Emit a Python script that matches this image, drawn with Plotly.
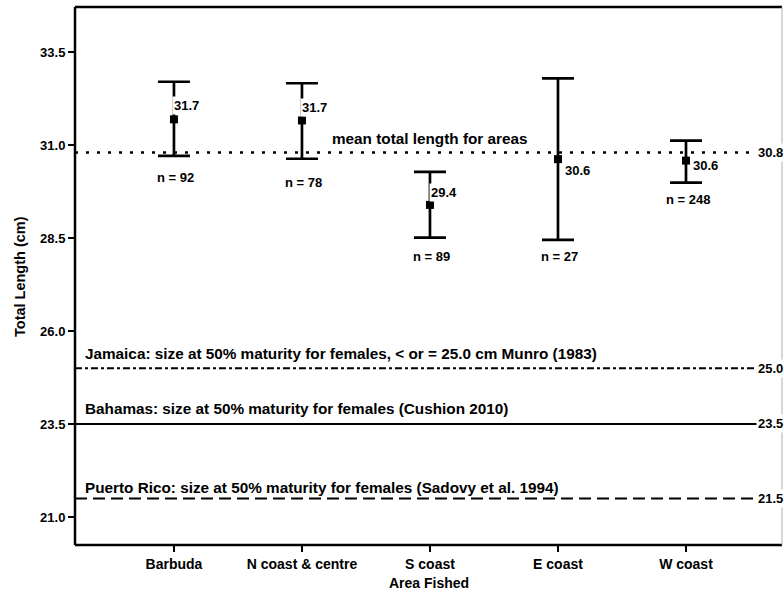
import plotly.graph_objects as go

# ---- data ----
areas = ["Barbuda", "N coast & centre", "S coast", "E coast", "W coast"]
mean_len = [31.69, 31.66, 29.39, 30.62, 30.58]
upper_ci = [32.70, 32.66, 30.28, 32.79, 31.12]
lower_ci = [30.71, 30.63, 28.51, 28.45, 29.99]
n_fish = [92, 78, 89, 27, 248]

overall_mean = 30.8
overall_label = "mean total length for areas"
ref_values = [25.0, 23.5, 21.5]
ref_labels = [
    "Jamaica: size at 50% maturity for females, < or = 25.0 cm Munro (1983)",
    "Bahamas: size at 50% maturity for females (Cushion 2010)",
    "Puerto Rico: size at 50% maturity for females (Sadovy et al. 1994)",
]
y_ticks = [21.0, 23.5, 26.0, 28.5, 31.0, 33.5]

# ---- styling ----
FONT = "Liberation Sans, Arial, sans-serif"
ref_dash = ["7px,3px,3px,3px", "solid", "12px,6px"]
ref_label_shift = [15, 15, 11]
# label offsets (pixels) for mean value labels: (xshift, yshift)
val_shift = [(-2, 13.5), (-2, 13), (-1, 12.5), (5, -11), (5, -4.5)]
# n label offsets below lower CI (pixels)
n_shift = [-22, -24, -19, -17, -17]

fig = go.Figure()

fig.add_trace(go.Scatter(
    x=areas, y=mean_len, mode="markers",
    marker=dict(symbol="square", size=8, color="black"),
    error_y=dict(type="data", symmetric=False,
                 array=[u - m for u, m in zip(upper_ci, mean_len)],
                 arrayminus=[m - l for m, l in zip(mean_len, lower_ci)],
                 color="black", thickness=2.7, width=16),
    showlegend=False, hoverinfo="skip",
))

shapes = []
# overall mean dotted line
shapes.append(dict(type="line", xref="paper", x0=0, x1=1, yref="y",
                   y0=overall_mean, y1=overall_mean,
                   line=dict(color="black", width=2.5, dash="3px,8px")))
for v, d in zip(ref_values, ref_dash):
    shapes.append(dict(type="line", xref="paper", x0=0, x1=1, yref="y",
                       y0=v, y1=v, line=dict(color="black", width=2, dash=d)))
# frame
shapes += [
    dict(type="line", xref="paper", yref="paper", x0=0, x1=0, y0=0, y1=1,
         line=dict(color="black", width=2.5)),
    dict(type="line", xref="paper", yref="paper", x0=0, x1=1, y0=1, y1=1,
         line=dict(color="black", width=2.5)),
    dict(type="line", xref="paper", yref="paper", x0=0, x1=1, y0=0, y1=0,
         line=dict(color="black", width=2.5)),
    dict(type="line", xref="paper", yref="paper", x0=1, x1=1, y0=0, y1=1,
         line=dict(color="#b0b0b0", width=1)),
]

ann = []
tf = dict(family=FONT, size=13, color="black", weight="bold")
tf_long = dict(family=FONT, size=15.3, color="black", weight="bold")
for i, a in enumerate(areas):
    ann.append(dict(x=a, y=mean_len[i], xref="x", yref="y",
                    text=f"{mean_len[i]:.1f}", showarrow=False,
                    xanchor="left", yanchor="middle",
                    xshift=val_shift[i][0], yshift=val_shift[i][1],
                    bgcolor="white", borderpad=1, font=tf))
    ann.append(dict(x=a, y=lower_ci[i], xref="x", yref="y",
                    text=f"n = {n_fish[i]}", showarrow=False,
                    xanchor="center", yanchor="middle", xshift=2,
                    yshift=n_shift[i], font=tf))
ann.append(dict(x=areas[2], y=overall_mean, xref="x", yref="y",
                text=overall_label, showarrow=False, xanchor="center",
                yanchor="middle", yshift=13.5, font=tf_long))
for v, t, s in zip(ref_values, ref_labels, ref_label_shift):
    ann.append(dict(x=0, y=v, xref="paper", yref="y", text=t,
                    showarrow=False, xanchor="left", yanchor="middle",
                    xshift=8, yshift=s, font=tf_long))
for v in [overall_mean] + ref_values:
    ann.append(dict(x=1, y=v, xref="paper", yref="y", text=f"{v:.1f}",
                    showarrow=False, xanchor="right", yanchor="middle",
                    xshift=3, bgcolor="white", borderpad=1, font=tf))
# axis titles
ann.append(dict(x=0.5, y=-0.0706, xref="paper", yref="paper",
                text="Area Fished", showarrow=False, xanchor="center",
                yanchor="middle",
                font=dict(family=FONT, size=14, color="black", weight="bold")))
ann.append(dict(x=-0.0778, y=0.5, xref="paper", yref="paper",
                text="Total Length (cm)", showarrow=False, textangle=-90,
                xanchor="center", yanchor="middle",
                font=dict(family=FONT, size=14.5, color="black", weight="bold")))

fig.update_layout(
    width=784, height=594,
    margin=dict(l=75, r=2, t=7, b=49),
    paper_bgcolor="white", plot_bgcolor="white",
    shapes=shapes, annotations=ann,
    xaxis=dict(type="category", range=[-0.773, 4.75], showgrid=False,
               zeroline=False, showline=False, ticks="outside", ticklen=6,
               tickwidth=1.5, tickcolor="black", automargin=False,
               tickfont=dict(family=FONT, size=14, color="black", weight="bold")),
    yaxis=dict(range=[20.247, 34.71], tickvals=y_ticks,
               ticktext=[f"{v:.1f}" for v in y_ticks], showgrid=False,
               zeroline=False, showline=False, ticks="outside", ticklen=6,
               tickwidth=1.5, tickcolor="black", automargin=False,
               tickfont=dict(family=FONT, size=13, color="black", weight="bold")),
)

fig.write_html("out.html", config={"displayModeBar": False},
               post_script="document.body.style.margin='0';document.body.style.overflow='hidden';")
